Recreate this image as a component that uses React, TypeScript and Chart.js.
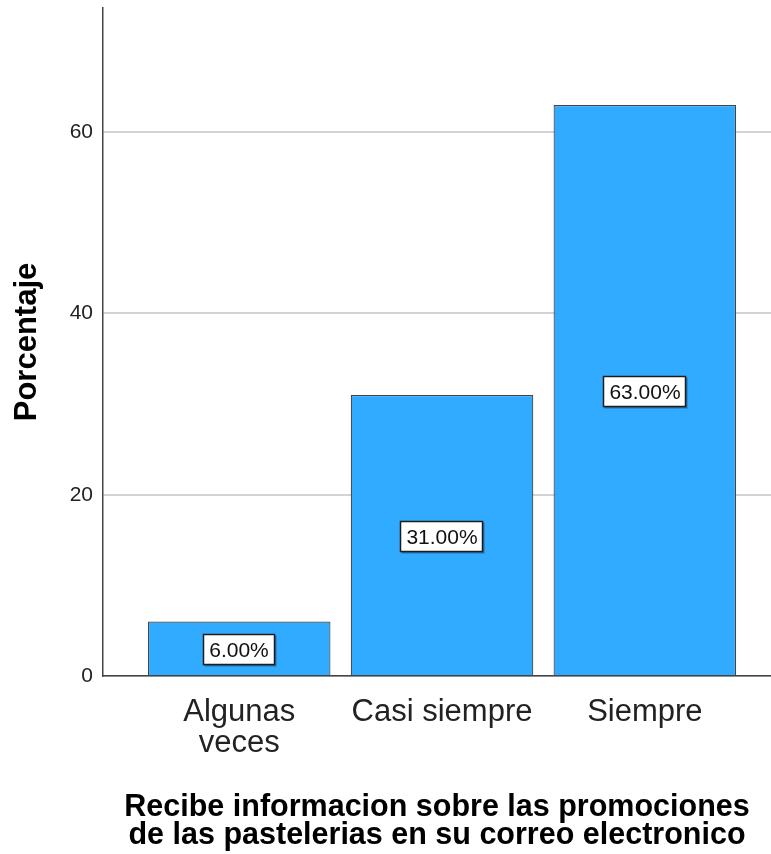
import React, { useEffect, useRef } from 'react';
import { Chart, registerables } from 'chart.js';

Chart.register(...registerables);

// Response categories (first one wraps onto two lines)
const categories: (string | string[])[] = [['Algunas', 'veces'], 'Casi siempre', 'Siempre'];
// Percentage of respondents per category
const percentages: number[] = [6, 31, 63];
// Value-axis tick marks
const yTicks: number[] = [0, 20, 40, 60];
const yAxisTitle = 'Porcentaje';
const xAxisTitle: string[] = [
  'Recibe informacion sobre las promociones',
  'de las pastelerias en su correo electronico',
];

const FONT = '"Liberation Sans", Arial, Helvetica, sans-serif';

// Boxed percentage label centred inside each bar
const valueBoxes = {
  id: 'valueBoxes',
  afterDatasetsDraw(chart: any) {
    const ctx = chart.ctx as CanvasRenderingContext2D;
    const meta = chart.getDatasetMeta(0);
    ctx.save();
    ctx.font = `21px ${FONT}`;
    ctx.textAlign = 'center';
    ctx.textBaseline = 'middle';
    meta.data.forEach((bar: any, i: number) => {
      const { x, y, base } = bar.getProps(['x', 'y', 'base'], true);
      const label = percentages[i].toFixed(2) + '%';
      const w = Math.round(ctx.measureText(label).width + 12);
      const h = 31;
      const cx = Math.round(x);
      const cy = Math.round((y + base) / 2 + 2);
      const left = cx - Math.round(w / 2);
      const top = cy - Math.round(h / 2);
      // soft drop shadow
      ctx.fillStyle = 'rgba(0,0,0,0.35)';
      ctx.fillRect(left + 1.5, top + 1.5, w, h);
      ctx.fillStyle = '#ffffff';
      ctx.fillRect(left, top, w, h);
      ctx.strokeStyle = '#1c1c1c';
      ctx.lineWidth = 1.5;
      ctx.strokeRect(left + 0.5, top + 0.5, w - 1, h - 1);
      ctx.fillStyle = '#111111';
      ctx.fillText(label, cx, cy + 1);
    });
    ctx.restore();
  },
};

export default function App() {
  const canvasRef = useRef<HTMLCanvasElement | null>(null);

  useEffect(() => {
    if (!canvasRef.current) return;
    Chart.defaults.font.family = FONT;

    const chart = new Chart(canvasRef.current, {
      type: 'bar',
      data: {
        datasets: [
          {
            data: percentages.map((v, i) => ({ x: i, y: v })),
            backgroundColor: '#31abff',
            borderColor: '#444444',
            borderWidth: 1.2,
            barPercentage: 0.9,
            categoryPercentage: 1,
          },
        ],
      },
      options: {
        responsive: false,
        animation: false,
        layout: { padding: { top: 8, left: 0, right: 0, bottom: 0 } },
        plugins: {
          legend: { display: false },
          tooltip: { enabled: false },
        },
        scales: {
          x: {
            type: 'linear',
            offset: false,
            min: -0.6716,
            max: 2.622,
            afterBuildTicks: (scale: any) => {
              scale.ticks = categories.map((_, i) => ({ value: i }));
            },
            afterFit: (scale: any) => {
              scale.height = 178;
              scale.paddingLeft = 0;
              scale.paddingRight = 0;
            },
            ticks: {
              callback: (value: any) => categories[value as number] ?? '',
              autoSkip: false,
              maxRotation: 0,
              minRotation: 0,
              padding: 20,
              color: '#222222',
              font: { size: 31, lineHeight: 1.03 },
            },
            grid: { display: false, drawTicks: false, offset: false },
            border: { color: '#454545', width: 1.5 },
            title: {
              display: true,
              text: xAxisTitle,
              color: '#000000',
              font: { size: 30.5, weight: 'bold', lineHeight: 0.9 },
              padding: { top: 0, bottom: 5 },
            },
          },
          y: {
            min: 0,
            max: 73.7,
            afterBuildTicks: (scale: any) => {
              scale.ticks = yTicks.map((v) => ({ value: v }));
            },
            afterFit: (scale: any) => {
              scale.width = 103;
              scale.paddingTop = 0;
              scale.paddingBottom = 0;
            },
            ticks: {
              padding: 10,
              color: '#222222',
              font: { size: 21 },
            },
            grid: { color: '#d3d3d3', lineWidth: 2, drawTicks: false },
            border: { color: '#454545', width: 1.5 },
            title: {
              display: true,
              text: yAxisTitle,
              color: '#000000',
              font: { size: 31, weight: 'bold', lineHeight: 1.2 },
              padding: { top: 9, bottom: 0 },
            },
          },
        },
      } as any,
      plugins: [valueBoxes],
    });

    return () => chart.destroy();
  }, []);

  return (
    <div style={{ position: 'absolute', left: 0, top: 0, width: 771, height: 854, background: '#ffffff' }}>
      <canvas ref={canvasRef} width={771} height={854} style={{ display: 'block' }} />
    </div>
  );
}
